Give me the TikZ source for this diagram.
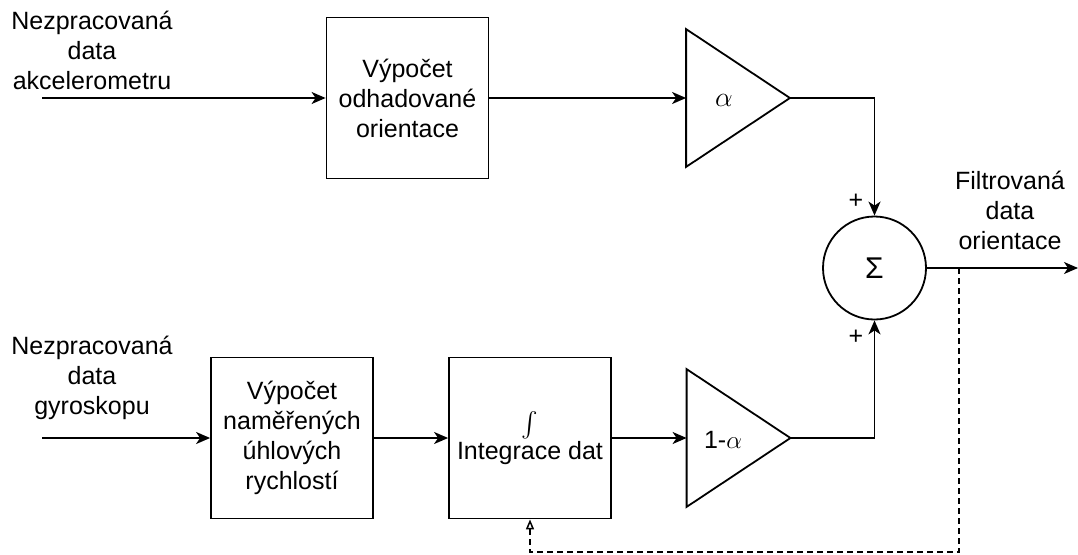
\RequirePackage{fix-cm}
\documentclass[tikz,border=0pt]{standalone}
\usepackage{exscale}
\usepackage{fontspec}
\setmainfont{Liberation Sans}
\usetikzlibrary{arrows.meta}
\begin{document}
\begin{tikzpicture}[x=1pt,y=-1pt,
  line width=1.8pt,
  every node/.style={font=\fontsize{25}{30}\selectfont, inner sep=0pt},
  blk/.style={draw, minimum width=162pt, minimum height=161pt, align=center},
  amp/.style={minimum width=102pt, minimum height=136pt},
  sumnode/.style={draw, circle, minimum size=103pt, font=\fontsize{30}{36}\selectfont},
  lbl/.style={align=center},
  sig/.style={-{Stealth[length=14pt,width=12pt,inset=4pt]}},
  fb/.style={dash pattern=on 6pt off 4pt, line width=1.5pt,
             -{Triangle[open,length=10pt,width=8pt]}}
]
\useasboundingbox (0,0) rectangle (1078,554);

% processing blocks
\node[blk] (b1) at (407.5,98) {Výpočet\\odhadované\\orientace};
\node[blk] (b2) at (292,438) {Výpočet\\naměřených\\úhlových\\rychlostí};
\node[blk] (b3) at (530,438) {$\int$\\[-2pt]Integrace dat};

% gain stages (triangles drawn on the node frames)
\node[amp] (g1) at (738,98) {};
\node[amp] (g2) at (738.5,438) {};
\draw (g1.north west) -- (g1.east) -- (g1.south west) -- cycle;
\draw (g2.north west) -- (g2.east) -- (g2.south west) -- cycle;
\node (ga) at (724,100) {\fontsize{28}{30}\selectfont$\alpha$};
\node (gb) at (723,440) {1-$\alpha$};

% summing junction
\node[sumnode] (sum) at (874.5,268) {Σ};
\node (pa) at (856,201) {+};
\node (pb) at (856,337) {+};

% input and output labels
\node[lbl] (lacc) at (92,50) {Nezpracovaná\\data\\akcelerometru};
\node[lbl] (lgyr) at (92,378) {Nezpracovaná\\data\\gyroskopu};
\node[lbl] (lout) at (1010,210) {Filtrovaná\\data\\orientace};

% free ends of the signal lines
\coordinate (in1) at (42,98);
\coordinate (in2) at (42,438);
\coordinate (out) at (1078,268);
\coordinate (tap) at (959,268);
\coordinate (fb1) at (959,552);
\coordinate (fb2) at (530,552);

% signal flow
\draw[sig] (in1) -- (b1.west);
\draw[sig] (b1.east) -- (g1.west);
\draw[sig] (g1.east) -| (sum.north);
\draw[sig] (in2) -- (b2.west);
\draw[sig] (b2.east) -- (b3.west);
\draw[sig] (b3.east) -- (g2.west);
\draw[sig] (g2.east) -| (sum.south);
\draw[sig] (sum.east) -- (out);

% feedback to the integrator
\draw[fb] (tap) -- (fb1) -- (fb2) -- (b3.south);
\end{tikzpicture}
\end{document}
